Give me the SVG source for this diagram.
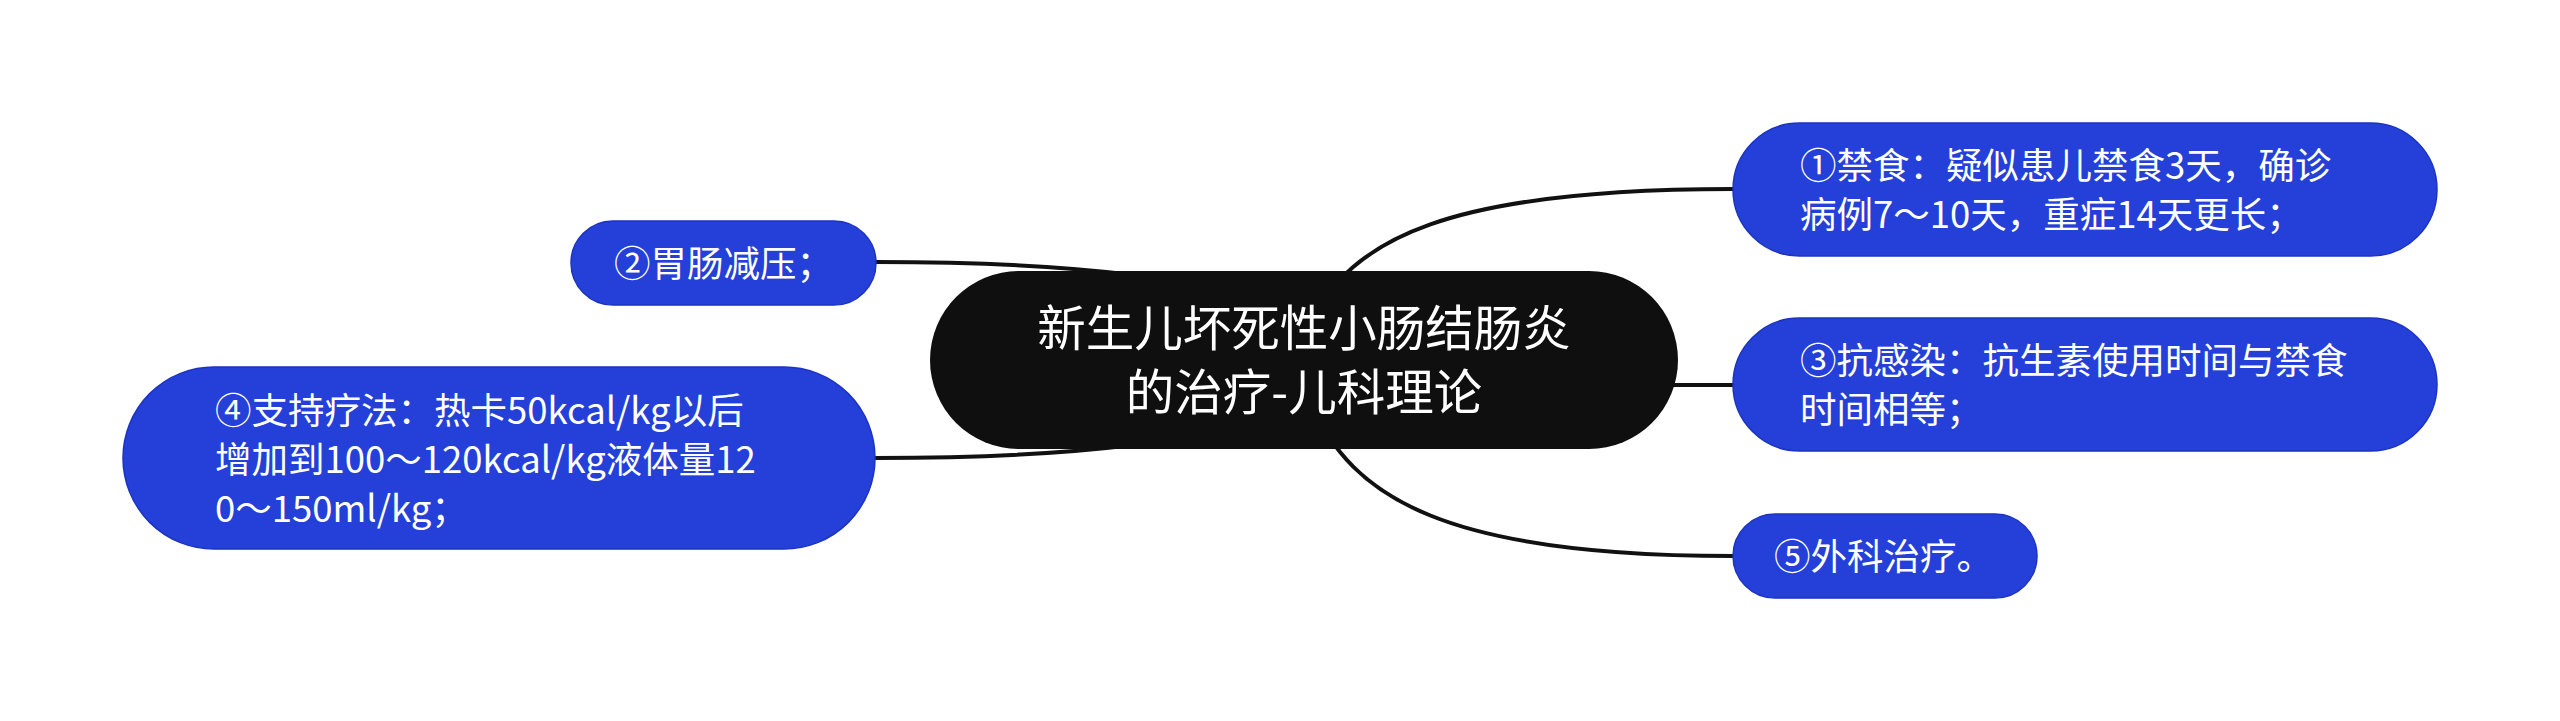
<svg xmlns="http://www.w3.org/2000/svg" width="2560" height="721" viewBox="0 0 2560 721">
<style>
.conn{fill:none;stroke:#111111;stroke-width:4;stroke-linecap:round}
.leaf{fill:#2440d9;stroke:#1b33c0;stroke-width:1.5}
.root{fill:#0f0f0f}
.t{fill:#ffffff;font-family:"Noto Sans CJK SC","Noto Sans",sans-serif;font-size:36.5px}
.rt{fill:#ffffff;font-family:"Noto Sans CJK SC","Noto Sans",sans-serif;font-size:48.5px;text-anchor:middle}
</style>
<rect width="2560" height="721" fill="#ffffff"/>
<g id="connectors">
<path class="conn" d="M1310,325 C1350,238 1450,189 1733,189"/>
<path class="conn" d="M876,262 Q1100,262 1220,290"/>
<path class="conn" d="M1600,385 H1733"/>
<path class="conn" d="M876,458 Q1100,458 1220,430"/>
<path class="conn" d="M1310,400 C1350,500 1450,556 1733,556"/>
</g>
<g id="root">
<rect class="root" x="930" y="271" width="748" height="178" rx="89"/>
<text class="rt" x="1304" y="346">新生儿坏死性小肠结肠炎</text>
<text class="rt" x="1304" y="410">的治疗-儿科理论</text>
</g>
<g id="node1">
<rect class="leaf" x="1733" y="123" width="704" height="133" rx="66.5"/>
<text class="t" x="1800" y="179">①禁食：疑似患儿禁食3天，确诊</text>
<text class="t" x="1800" y="228">病例7～10天，重症14天更长；</text>
</g>
<g id="node2">
<rect class="leaf" x="571" y="221" width="305" height="84" rx="42"/>
<text class="t" x="614" y="277">②胃肠减压；</text>
</g>
<g id="node3">
<rect class="leaf" x="1733" y="318" width="704" height="133" rx="66.5"/>
<text class="t" x="1800" y="374">③抗感染：抗生素使用时间与禁食</text>
<text class="t" x="1800" y="423">时间相等；</text>
</g>
<g id="node4">
<rect class="leaf" x="123" y="367" width="752" height="182" rx="91"/>
<text class="t" x="215" y="424">④支持疗法：热卡50kcal/kg以后</text>
<text class="t" x="215" y="473">增加到100～120kcal/kg液体量12</text>
<text class="t" x="215" y="522">0～150ml/kg；</text>
</g>
<g id="node5">
<rect class="leaf" x="1733" y="514" width="304" height="84" rx="42"/>
<text class="t" x="1774" y="570">⑤外科治疗。</text>
</g>
</svg>
